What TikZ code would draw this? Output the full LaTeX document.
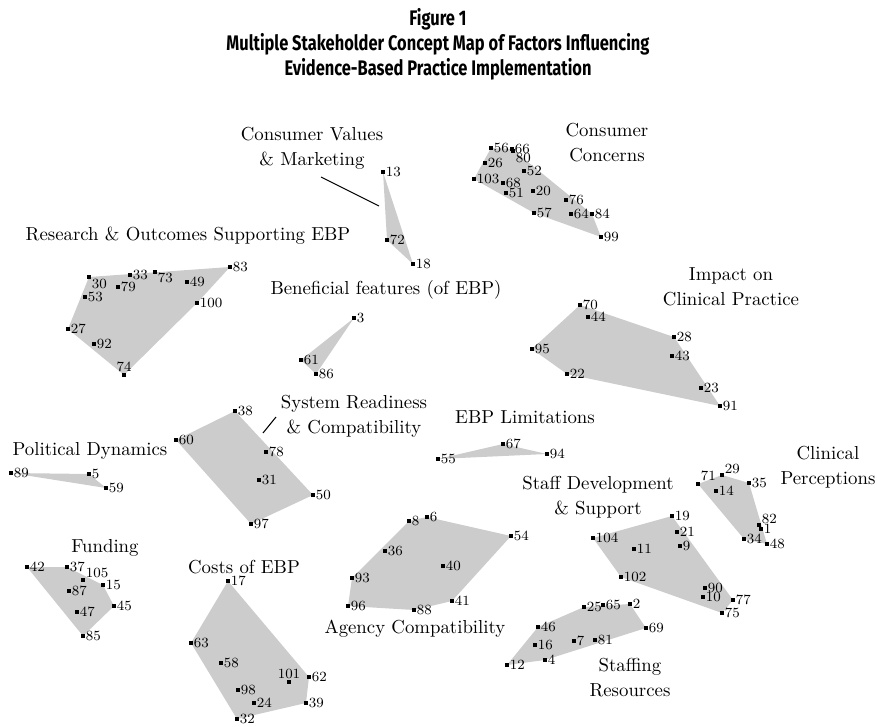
\documentclass[tikz,border=0pt]{standalone}
\usepackage{fontspec}
\usepackage{tikz}
\usetikzlibrary{backgrounds}
\newfontfamily\headfont[FakeStretch=0.78]{Fira Sans}
\definecolor{hullgray}{RGB}{204,204,204}

\begin{document}
\begin{tikzpicture}[x=0.02cm, y=-0.02cm,
  pt/.style={shape=rectangle, fill=black, inner sep=0pt, minimum size=2.5pt, label distance=1.2pt},
  lbl/.style={font=\fontsize{8}{9}\selectfont, inner sep=0pt},
  cname/.style={font=\fontsize{10.7}{14.2}\selectfont, align=center, inner sep=0pt},
  headline/.style={font=\headfont\bfseries\fontsize{12}{14.2}\selectfont, align=center, inner sep=0pt},
  hull/.style={fill=hullgray},
  lead/.style={line width=0.6pt}]
\useasboundingbox (0,0) rectangle (877,727);
\node[headline] (title) at (438,44) {Figure 1\\Multiple Stakeholder Concept Map of Factors Influencing\\Evidence-Based Practice Implementation};

\foreach \n/\x/\y in {33/130/275, 49/187/282, 83/230/267, 79/118/287, 53/85/297, 100/197/303, 27/68/329, 92/94/344,
  13/383/172, 72/387/240, 18/413/264, 3/354/318, 61/301/360, 86/316/374,
  56/491/148, 66/512/149, 26/485/163, 52/524/171, 103/474/179, 68/503/183, 51/506/193, 20/533/191, 76/566/200, 57/534/213, 64/571/214, 84/592/214, 99/601/237,
  70/580/305, 44/588/317, 28/674/337, 95/532/349, 43/672/356, 22/567/374, 23/701/388, 91/720/406,
  67/503/444, 94/547/454, 55/438/459,
  8/409/521, 6/427/517, 54/511/536, 36/385/551, 40/443/566, 93/352/578, 96/348/606, 88/414/610, 41/452/601,
  38/235/411, 60/176/440, 78/266/452, 31/259/480, 50/313/495, 97/251/524,
  89/11/473, 5/89/474, 59/106/488,
  42/27/567, 37/67/567, 15/103/585, 87/69/591, 45/114/606, 47/77/612, 85/83/636,
  17/228/581, 63/191/643, 58/221/663, 62/309/677, 98/238/690, 24/254/703, 39/306/703, 32/237/719,
  19/672/516, 21/677/532, 104/593/538, 9/680/546, 11/634/549, 102/621/577, 90/705/588, 10/703/597, 77/733/600, 75/722/613,
  35/749/483, 14/716/491, 1/761/529, 34/744/539, 48/767/544,
  25/584/607, 65/603/605, 2/630/604, 46/538/627, 69/646/628, 16/535/645, 7/574/641, 81/595/640, 4/545/660, 12/507/665}
  \node[pt, label={[lbl]right:\n}] (p\n) at (\x,\y) {};
\foreach \n/\x/\y/\a in {74/124/375/90, 101/289/682/90, 30/89/277/-30, 73/155/272/-20, 80/513/151/-40,
  71/698/484/45, 29/722/475/20, 82/759/525/25, 105/83/580/30}
  \node[pt, label={[lbl]\a:\n}] (p\n) at (\x,\y) {};

\begin{scope}[on background layer]
\fill[hull] (p30.center) -- (p83.center) -- (p100.center) -- (p74.center) -- (p27.center) -- cycle;
\fill[hull] (p13.center) -- (p18.center) -- (p72.center) -- cycle;
\fill[hull] (p3.center) -- (p86.center) -- (p61.center) -- cycle;
\fill[hull] (p103.center) -- (p56.center) -- (p66.center) -- (p84.center) -- (p99.center) -- (p57.center) -- cycle;
\fill[hull] (p70.center) -- (p28.center) -- (p91.center) -- (p22.center) -- (p95.center) -- cycle;
\fill[hull] (p55.center) -- (p67.center) -- (p94.center) -- cycle;
\fill[hull] (p8.center) -- (p6.center) -- (p54.center) -- (p41.center) -- (p88.center) -- (p96.center) -- (p93.center) -- cycle;
\fill[hull] (p38.center) -- (p50.center) -- (p97.center) -- (p60.center) -- cycle;
\fill[hull] (p89.center) -- (p5.center) -- (p59.center) -- cycle;
\fill[hull] (p42.center) -- (p37.center) -- (p15.center) -- (p45.center) -- (p85.center) -- cycle;
\fill[hull] (p17.center) -- (p62.center) -- (p39.center) -- (p32.center) -- (p63.center) -- cycle;
\fill[hull] (p104.center) -- (p19.center) -- (p77.center) -- (p75.center) -- (p102.center) -- cycle;
\fill[hull] (p71.center) -- (p29.center) -- (p35.center) -- (p48.center) -- (p34.center) -- cycle;
\fill[hull] (p12.center) -- (p46.center) -- (p25.center) -- (p2.center) -- (p69.center) -- (p4.center) -- cycle;
\end{scope}

\node[cname] (research) at (188,236) {Research \& Outcomes Supporting EBP};
\node[cname] (values) at (312,148) {Consumer Values\\\& Marketing};
\node[cname] (concerns) at (607,143) {Consumer\\Concerns};
\node[cname] (benefit) at (386,290) {Beneficial features (of EBP)};
\node[cname] (impact) at (731,287) {Impact on\\Clinical Practice};
\node[cname] (system) at (354,416) {System Readiness\\\& Compatibility};
\node[cname] (limits) at (525,417) {EBP Limitations};
\node[cname] (politics) at (90,451) {Political Dynamics};
\node[cname] (clinical) at (828,467) {Clinical\\Perceptions};
\node[cname] (staffdev) at (598,497) {Staff Development\\\& Support};
\node[cname] (funding) at (105,548) {Funding};
\node[cname] (costs) at (244,567) {Costs of EBP};
\node[cname] (agency) at (415,629) {Agency Compatibility};
\node[cname] (staffing) at (630,678) {Staffing\\Resources};

\coordinate (valuesA) at (321,177);
\coordinate (valuesB) at (379,206);
\coordinate (systemA) at (276,417);
\coordinate (systemB) at (263,433);
\draw[lead] (valuesA) -- (valuesB);
\draw[lead] (systemA) -- (systemB);
\end{tikzpicture}
\end{document}
